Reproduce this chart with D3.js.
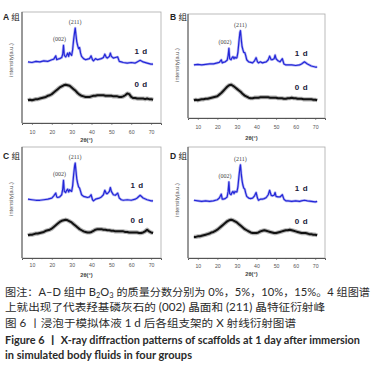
<!DOCTYPE html>
<html>
<head>
<meta charset="utf-8">
<script src="https://cdn.jsdelivr.net/npm/d3@7"></script>
<style>
  body { margin: 0; background: #fff; }
  svg { display: block; }
</style>
</head>
<body>
<svg id="fig" width="378" height="371"></svg>
<script>
// 2θ sample points (denser around the HA peaks)
const blueAngles = [8, 10, 12, 14, 16, 18, 20, 21, 22, 22.5, 23, 24, 25, 25.5, 25.9, 26.3, 27, 27.5, 28, 28.5,
  29, 29.5, 30, 30.5, 31, 31.5, 31.8, 32.2, 32.6, 33, 33.5, 34, 34.5, 35, 36, 37, 38, 39, 39.8, 40.5,
  41, 42, 43, 44, 45, 46, 46.7, 47.5, 48, 49, 49.5, 50, 51, 52, 53.2, 54, 55, 56, 58, 60,
  62, 63, 64.5, 66, 68, 70, 71];
const blackAngles = d3.range(8, 72, 1);

// 1 d curves (blue)
const blueA = [55, 54.5, 55.5, 55, 56, 55.5, 57, 57.5, 60.5, 57, 57.5, 58, 59, 62, 70, 61, 59.5, 61, 63, 60,
  63.5, 62, 61, 66, 75, 82, 85.5, 79, 73, 70, 67, 68, 63, 60, 58, 57, 57.5, 58, 60.5, 57,
  56, 58, 57, 57.5, 58, 59, 62, 59, 58.5, 60, 63, 60, 58.5, 59, 59.5, 55.5, 55, 54.5, 54, 54.5,
  54, 55, 56.5, 55, 54, 53, 53];
const blueB = [51, 51.5, 51, 51.5, 52, 52, 53, 53.5, 56, 53, 53.5, 54, 55.5, 60, 67, 57, 56, 58, 59, 57,
  58.5, 57.5, 58, 63, 73, 82, 84, 76, 69, 66, 63, 63, 60, 56, 54, 53.5, 53, 55, 58, 54,
  53, 54, 53, 53.5, 54, 56, 59.5, 56, 56, 57, 60.5, 57, 55, 54, 57, 52, 51, 51, 51, 50.5,
  51, 52, 54, 52, 50, 49, 49];
const blueC = [53, 52.5, 52, 52, 52.5, 53, 54, 56, 58.5, 55, 54.5, 55, 57, 62, 70, 60, 59, 61, 62, 59.5,
  61.5, 60.5, 60, 65, 75, 83, 85.5, 78, 71, 67.5, 64, 63, 60, 57, 55.5, 55, 54.5, 55, 57, 52.5,
  51.5, 53, 53.5, 54, 55, 57, 61, 58, 58, 60, 63.5, 60, 57, 56.5, 58.5, 54, 52.5, 52, 52.5, 52,
  53, 54, 56.5, 54, 52.5, 51.5, 51.5];
const blueD = [52, 51.5, 51, 51.5, 51, 51.5, 52.5, 54, 57.5, 53, 53, 53.5, 55, 60, 68.5, 58, 57, 59, 60, 58,
  60, 59.5, 59.5, 64, 73, 81, 84, 76, 70, 66, 63, 62, 58.5, 55.5, 54, 53.5, 54, 56, 59, 54,
  52, 53, 53, 53.5, 54.5, 57, 61, 56.5, 56, 56.5, 59, 55.5, 55, 55, 57, 53, 51.5, 51.5, 51, 51.5,
  51, 51.5, 52, 51.5, 51, 50.5, 51];

// 0 d curves (black, amorphous hump)
const blackA = [20.5, 21, 20.5, 21, 21.5, 21.5, 22, 22.5, 23, 23.5, 24.5, 25, 26, 27.5, 29, 30.5, 32, 33, 34, 34.5,
  34, 33.5, 32, 30.5, 29, 27, 25.5, 24.5, 24, 23.5, 23.5, 23.5, 24, 24.5, 24.5, 25, 25, 25, 25, 24.5,
  24.5, 24.5, 24.5, 24, 24, 24, 23.5, 23.5, 24, 25, 26.5, 26, 23.5, 22.5, 22.5, 22, 22, 22, 22, 21.5,
  22, 21.5, 21.5, 21];
const blackB = [17, 17.5, 17, 17.5, 18, 18, 18.5, 18.5, 19, 19.5, 20, 20.5, 21, 22.5, 24, 26, 28, 30, 31.5, 32,
  31, 29.5, 28, 26.5, 25, 23, 21.5, 20.5, 19.5, 19, 19, 19.5, 19.5, 19.5, 20, 20, 20, 20, 20, 19.5,
  19.5, 19.5, 19.5, 19, 19, 19, 18.5, 18.5, 19, 19, 19.5, 19, 19, 18.5, 18.5, 18.5, 18, 18, 18, 18,
  18, 17.5, 17.5, 17];
const blackC = [20.5, 21, 21, 21.5, 22, 22, 22.5, 23, 23.5, 24.5, 25, 25.5, 26.5, 28, 29.5, 31, 32.5, 33.5, 34, 34.5,
  34, 33, 32, 30.5, 29, 27.5, 26, 25, 24, 23.5, 23, 23, 23.5, 24.5, 25.5, 26, 26, 26, 25.5, 25.5,
  25, 25, 24.5, 24.5, 24, 24, 24, 24, 24, 23.5, 23.5, 23, 23, 23, 23, 23, 22.5, 22.5, 23, 24,
  25.5, 24, 23, 22.5];
const blackD = [19, 19, 19.5, 19.5, 20, 20.5, 21, 21.5, 22, 23, 23.5, 24.5, 25.5, 27, 28.5, 30, 31.5, 33, 34, 34.5,
  34, 33, 32, 30.5, 29, 27.5, 26, 25, 24, 23, 22.5, 22.5, 22.5, 23, 24, 24.5, 25, 24.5, 24, 23.5,
  23, 22.5, 22.5, 23, 23.5, 24, 24.5, 25, 25, 25.5, 25, 24.5, 24, 23.5, 23, 22.5, 22.5, 22.5, 22, 21.5,
  21.5, 21, 21, 20.5];

const xTicks = [10, 20, 30, 40, 50, 60, 70];
const minorTicks = [15, 25, 35, 45, 55, 65];
const peakLabels = [{ text: "(002)", angle: 25.9, dx: -4 }, { text: "(211)", angle: 31.8, dx: 0 }];
const dayLabels = ["1 d", "0 d"];

const caption = [
  "图注：A–D 组中 B|2|O|3| 的质量分数分别为 0%，5%，10%，15%。4 组图谱",
  "上就出现了代表羟基磷灰石的 (002) 晶面和 (211) 晶特征衍射峰",
  "图 6 丨浸泡于模拟体液 1 d 后各组支架的 X 射线衍射图谱",
  "Figure 6 丨 X-ray diffraction patterns of scaffolds at 1 day after immersion",
  "in simulated body fluids in four groups"
];

// panel layout (pixels)
const panels = [
  { name: "A", blue: blueA, black: blackA, left: 22, right: 161, top: 12, bottom: 123,
    tickY: 134, titleY: 141.5, ylabX: 13, ylabY: 60, nameX: 3, nameY: 19.5, dayAngle: 65, day1: 62, day0: 32 },
  { name: "B", blue: blueB, black: blackB, left: 188, right: 325, top: 14, bottom: 118,
    tickY: 129, titleY: 140, ylabX: 179, ylabY: 65, nameX: 170, nameY: 19.5, dayAngle: 63, day1: 59.5, day0: 27 },
  { name: "C", blue: blueC, black: blackC, left: 22, right: 161, top: 147, bottom: 258,
    tickY: 267, titleY: 277, ylabX: 13, ylabY: 199, nameX: 3, nameY: 158.5, dayAngle: 63, day1: 63, day0: 31.5 },
  { name: "D", blue: blueD, black: blackD, left: 188, right: 325, top: 147, bottom: 258,
    tickY: 268, titleY: 276, ylabX: 179, ylabY: 200, nameX: 170, nameY: 158.5, dayAngle: 63, day1: 60.4, day0: 30.6 }
];

const svg = d3.select("#fig");

panels.forEach((p) => {
  const x = d3.scaleLinear().domain([5, 75]).range([p.left, p.right]);
  const y = d3.scaleLinear().domain([0, 100]).range([p.bottom, p.top]);
  const g = svg.append("g");

  // frame
  g.append("rect")
    .attr("x", p.left).attr("y", p.top)
    .attr("width", p.right - p.left).attr("height", p.bottom - p.top)
    .attr("fill", "none").attr("stroke", "#aaa").attr("stroke-width", 0.8);

  // bottom axis
  const axis = g.append("g")
    .attr("transform", `translate(0,${p.bottom})`)
    .call(d3.axisBottom(x).tickValues(xTicks).tickSize(2).tickFormat(d3.format("d")));
  axis.select(".domain").attr("stroke", "#555").attr("stroke-width", 1);
  axis.selectAll(".tick line").attr("stroke", "#555").attr("stroke-width", 0.6);
  axis.selectAll(".tick text")
    .attr("y", p.tickY - p.bottom).attr("dy", 0)
    .attr("fill", "#555").attr("font-size", 5.2).attr("font-family", "Liberation Sans, Arial, sans-serif");
  g.selectAll(".minor").data(minorTicks).join("line")
    .attr("x1", (d) => x(d)).attr("x2", (d) => x(d))
    .attr("y1", p.bottom).attr("y2", p.bottom + 1.2)
    .attr("stroke", "#555").attr("stroke-width", 0.5);

  // left axis line
  g.append("line")
    .attr("x1", p.left).attr("x2", p.left).attr("y1", p.top).attr("y2", p.bottom)
    .attr("stroke", "#555").attr("stroke-width", 1);

  g.append("text")
    .attr("x", (p.left + p.right) / 2 - 5).attr("y", p.titleY)
    .attr("text-anchor", "middle").attr("font-size", 5.8).attr("font-weight", "bold")
    .attr("fill", "#444").attr("font-family", "Liberation Sans, Arial, sans-serif")
    .text("2θ(°)");

  g.append("text")
    .attr("transform", `translate(${p.ylabX},${p.ylabY}) rotate(-90)`)
    .attr("text-anchor", "middle").attr("font-size", 5.6)
    .attr("fill", "#555").attr("font-family", "Liberation Sans, Arial, sans-serif")
    .text("intensity(a.u.)");

  // panel name
  const nm = g.append("text")
    .attr("x", p.nameX).attr("y", p.nameY)
    .attr("font-size", 8.5).attr("font-weight", "bold").attr("fill", "#222")
    .attr("font-family", "Liberation Sans, 'Noto Sans CJK SC', sans-serif");
  nm.append("tspan").text(p.name + " ");
  nm.append("tspan").attr("font-family", "Noto Sans CJK SC").attr("font-weight", "normal").text("组");

  // 0 d: fuzzy black line
  const blackLine = d3.line().x((d, i) => x(blackAngles[i])).y((d) => y(d)).curve(d3.curveLinear);
  g.append("path").datum(p.black)
    .attr("fill", "none").attr("stroke", "#222").attr("stroke-opacity", 0.35)
    .attr("stroke-width", 4.2).attr("stroke-linejoin", "round")
    .attr("d", blackLine);
  g.append("path").datum(p.black)
    .attr("fill", "none").attr("stroke", "#111")
    .attr("stroke-width", 2).attr("stroke-linejoin", "round")
    .attr("d", blackLine);

  // 1 d: blue line
  const blueLine = d3.line().x((d, i) => x(blueAngles[i])).y((d) => y(d));
  g.append("path").datum(p.blue)
    .attr("fill", "none").attr("stroke", "#2b2fdc").attr("stroke-opacity", 0.35)
    .attr("stroke-width", 2.6).attr("stroke-linejoin", "round")
    .attr("d", blueLine);
  g.append("path").datum(p.blue)
    .attr("fill", "none").attr("stroke", "#2326d8")
    .attr("stroke-width", 1.2).attr("stroke-linejoin", "round")
    .attr("d", blueLine);

  // peak labels
  peakLabels.forEach((pk) => {
    const v = p.blue[blueAngles.indexOf(pk.angle)];
    g.append("text")
      .attr("x", x(pk.angle) + pk.dx).attr("y", y(v) - 4)
      .attr("text-anchor", "middle").attr("font-size", 6)
      .attr("fill", "#444").attr("font-family", "Liberation Serif, serif")
      .text(pk.text);
  });

  // day labels
  [p.day1, p.day0].forEach((v, i) => {
    g.append("text")
      .attr("x", x(p.dayAngle)).attr("y", y(v))
      .attr("text-anchor", "middle").attr("font-size", 8).attr("font-weight", "bold")
      .attr("fill", "#1a1a3a").attr("font-family", "Liberation Sans, Arial, sans-serif")
      .attr("letter-spacing", 0.6)
      .text(dayLabels[i]);
  });
});

// caption
const capY = [296, 311, 327, 343.5, 359];
const capW = [365, 320, 291, 355, 187];
caption.forEach((line, i) => {
  const t = svg.append("text")
    .attr("x", 5).attr("y", capY[i])
    .attr("font-size", 10.5)
    .attr("font-weight", i >= 3 ? "bold" : "normal")
    .attr("fill", "#2a2a2a")
    .attr("font-family", "Lato, 'Noto Sans CJK SC', sans-serif")
    .attr("textLength", capW[i]).attr("lengthAdjust", "spacingAndGlyphs");
  // "|" marks subscript segments
  line.split("|").forEach((seg, j) => {
    const ts = t.append("tspan").text(seg);
    if (j % 2 === 1) ts.attr("font-size", 7).attr("baseline-shift", "-25%");
  });
});
</script>
</body>
</html>
